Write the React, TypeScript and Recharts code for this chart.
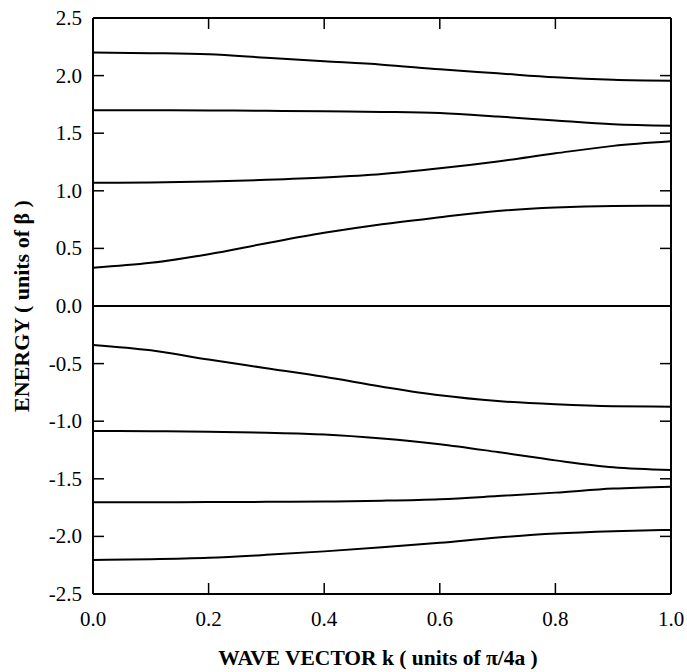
import { LineChart, Line, XAxis, YAxis } from 'recharts'

const FONT = 'Liberation Serif, DejaVu Serif, serif'

// wave vector k (units of pi/4a)
const K = [0, 0.1, 0.2, 0.3, 0.4, 0.5, 0.6, 0.7, 0.8, 0.9, 1.0]

// energy bands (units of beta)
const BAND_1 = [2.2, 2.195, 2.185, 2.155, 2.125, 2.095, 2.055, 2.02, 1.985, 1.963, 1.955]
const BAND_2 = [1.7, 1.7, 1.698, 1.695, 1.69, 1.685, 1.675, 1.645, 1.61, 1.578, 1.565]
const BAND_3 = [1.07, 1.072, 1.08, 1.095, 1.115, 1.145, 1.195, 1.255, 1.325, 1.39, 1.43]
const BAND_4 = [0.333, 0.375, 0.45, 0.545, 0.635, 0.71, 0.77, 0.825, 0.855, 0.868, 0.87]
const BAND_5 = [0, 0, 0, 0, 0, 0, 0, 0, 0, 0, 0]
const BAND_6 = [-0.338, -0.385, -0.465, -0.54, -0.615, -0.7, -0.775, -0.825, -0.853, -0.87, -0.874]
const BAND_7 = [-1.085, -1.087, -1.092, -1.1, -1.115, -1.15, -1.2, -1.268, -1.34, -1.4, -1.424]
const BAND_8 = [-1.704, -1.703, -1.702, -1.7, -1.697, -1.69, -1.677, -1.65, -1.62, -1.585, -1.568]
const BAND_9 = [-2.205, -2.198, -2.185, -2.16, -2.13, -2.095, -2.055, -2.01, -1.975, -1.955, -1.944]

const BANDS = [BAND_1, BAND_2, BAND_3, BAND_4, BAND_5, BAND_6, BAND_7, BAND_8, BAND_9]

const X_TICKS = [0, 0.2, 0.4, 0.6, 0.8, 1.0]
const Y_TICKS = [-2.5, -2.0, -1.5, -1.0, -0.5, 0, 0.5, 1.0, 1.5, 2.0, 2.5]

const data = K.map((k, i) => {
  const row: any = { k }
  BANDS.forEach((b, j) => { row['b' + j] = b[i] })
  return row
})

const TL = 11
const textStyle = { fontFamily: FONT }

function LeftTick({ x, y, payload }: any) {
  const v = payload.value
  const edge = v === -2.5 || v === 2.5
  return (
    <g>
      {!edge && <line x1={x} x2={x + TL} y1={y} y2={y} stroke="#000" strokeWidth={1.5} />}
      <text x={x - 11} y={y + 7} textAnchor="end" fontSize={21} style={textStyle} fill="#000">
        {v.toFixed(1)}
      </text>
    </g>
  )
}

function RightTick({ x, y, payload }: any) {
  const v = payload.value
  if (v === -2.5 || v === 2.5) return null
  return <line x1={x} x2={x - TL} y1={y} y2={y} stroke="#000" strokeWidth={1.5} />
}

function BottomTick({ x, y, payload }: any) {
  const v = payload.value
  const edge = v === 0 || v === 1
  return (
    <g>
      {!edge && <line x1={x} x2={x} y1={y} y2={y - TL} stroke="#000" strokeWidth={1.5} />}
      <text x={x} y={y + 32} textAnchor="middle" fontSize={21} style={textStyle} fill="#000">
        {v.toFixed(1)}
      </text>
    </g>
  )
}

function TopTick({ x, y, payload }: any) {
  const v = payload.value
  if (v === 0 || v === 1) return null
  return <line x1={x} x2={x} y1={y} y2={y + TL} stroke="#000" strokeWidth={1.5} />
}

export default function App() {
  return (
    <div style={{ position: 'absolute', left: 0, top: 0, background: '#fff' }}>
      <LineChart width={687} height={672} data={data} margin={{ top: 17, right: 15, bottom: 48, left: 33 }}>
        <XAxis
          dataKey="k"
          type="number"
          domain={[0, 1]}
          ticks={X_TICKS}
          height={30}
          tickSize={0}
          tickMargin={0}
          tickLine={false}
          axisLine={{ stroke: '#000', strokeWidth: 2 }}
          tick={<BottomTick />}
          label={{
            content: ({ viewBox }: any) => (
              <text x={viewBox.x + viewBox.width / 2 - 4} y={viewBox.y + 71} textAnchor="middle"
                fontSize={21.5} fontWeight="bold" style={textStyle} fill="#000">
                WAVE VECTOR k ( units of π/4a )
              </text>
            ),
          }}
        />
        <XAxis
          xAxisId="top"
          orientation="top"
          dataKey="k"
          type="number"
          domain={[0, 1]}
          ticks={X_TICKS}
          height={1}
          tickSize={0}
          tickMargin={0}
          tickLine={false}
          axisLine={{ stroke: '#000', strokeWidth: 2 }}
          tick={<TopTick />}
        />
        <YAxis
          type="number"
          domain={[-2.5, 2.5]}
          ticks={Y_TICKS}
          width={60}
          tickSize={0}
          tickMargin={0}
          tickLine={false}
          axisLine={{ stroke: '#000', strokeWidth: 2 }}
          tick={<LeftTick />}
          label={{
            content: ({ viewBox }: any) => {
              const cy = viewBox.y + viewBox.height / 2
              return (
                <text x={29} y={cy} transform={`rotate(-90, 29, ${cy})`} textAnchor="middle"
                  fontSize={22} fontWeight="bold" style={textStyle} fill="#000">
                  ENERGY ( units of β )
                </text>
              )
            },
          }}
        />
        <YAxis
          yAxisId="right"
          orientation="right"
          type="number"
          domain={[-2.5, 2.5]}
          ticks={Y_TICKS}
          width={1}
          tickSize={0}
          tickMargin={0}
          tickLine={false}
          axisLine={{ stroke: '#000', strokeWidth: 2 }}
          tick={<RightTick />}
        />
        {BANDS.map((_, j) => (
          <Line
            key={j}
            dataKey={'b' + j}
            type="monotone"
            stroke="#000"
            strokeWidth={2}
            dot={false}
            isAnimationActive={false}
          />
        ))}
        <Line
          xAxisId="top"
          yAxisId="right"
          dataKey="b4"
          stroke="none"
          dot={false}
          legendType="none"
          isAnimationActive={false}
        />
      </LineChart>
    </div>
  )
}
